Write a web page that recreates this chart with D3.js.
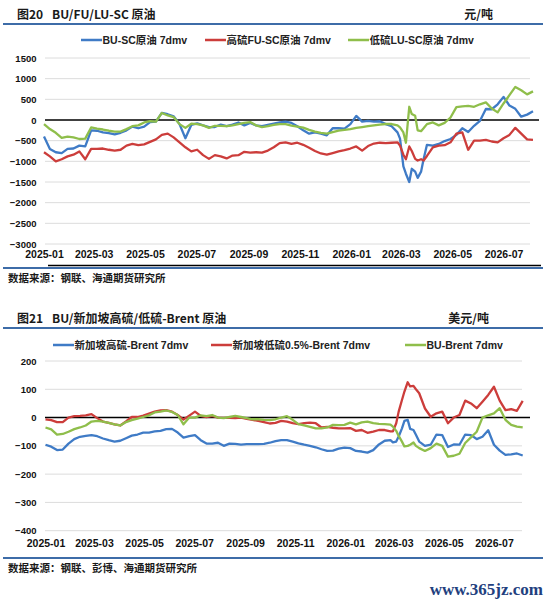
<!DOCTYPE html>
<html>
<head>
<meta charset="utf-8">
<script src="https://cdn.jsdelivr.net/npm/d3@7"></script>
<style>
  body { margin: 0; background: #fff; }
</style>
</head>
<body>
<svg id="chart" width="550" height="601"></svg>
<script>
// weekly 7dmv readings, extra points around the March 2026 spike
var dates = [
  "2025-01-01","2025-01-08","2025-01-15","2025-01-22","2025-01-29","2025-02-05","2025-02-12","2025-02-19","2025-02-26","2025-03-05",
  "2025-03-12","2025-03-19","2025-03-26","2025-04-02","2025-04-09","2025-04-16","2025-04-23","2025-04-30","2025-05-07","2025-05-14",
  "2025-05-21","2025-05-28","2025-06-04","2025-06-11","2025-06-18","2025-06-25","2025-07-02","2025-07-09","2025-07-16","2025-07-23",
  "2025-07-30","2025-08-06","2025-08-13","2025-08-20","2025-08-27","2025-09-03","2025-09-10","2025-09-17","2025-09-24","2025-10-01",
  "2025-10-08","2025-10-15","2025-10-22","2025-10-29","2025-11-05","2025-11-12","2025-11-19","2025-11-26","2025-12-03","2025-12-10",
  "2025-12-17","2025-12-24","2025-12-31","2026-01-07","2026-01-14","2026-01-21","2026-01-28","2026-02-04","2026-02-11","2026-02-18",
  "2026-02-25","2026-02-28","2026-03-04","2026-03-07","2026-03-11","2026-03-14","2026-03-18","2026-03-21","2026-03-25","2026-03-28",
  "2026-04-01","2026-04-08","2026-04-15","2026-04-22","2026-04-29","2026-05-06","2026-05-13","2026-05-20","2026-05-27","2026-06-03",
  "2026-06-10","2026-06-17","2026-06-24","2026-07-01","2026-07-08","2026-07-15","2026-07-22","2026-07-29","2026-08-05"
];

// 图20 (元/吨)
var buSc = [
  -400,-700,-780,-800,-700,-690,-620,-640,-250,-260,
  -300,-320,-350,-310,-250,-160,-200,-160,-50,-40,
  170,140,90,-100,-440,-120,-80,-130,-170,-170,
  -110,-150,-110,-60,-130,-70,-130,-150,-120,-90,
  -60,-40,-70,-150,-250,-330,-300,-330,-370,-200,
  -200,-210,-100,100,-40,-20,-40,-30,-100,-150,
  -300,-450,-1120,-1300,-1500,-1180,-1250,-1400,-1250,-950,
  -600,-620,-580,-510,-460,-360,-200,-290,-140,-20,
  266,260,380,560,350,270,80,130,210
];
var fuSc = [
  -780,-880,-1000,-950,-880,-840,-760,-950,-700,-700,
  -690,-720,-740,-720,-620,-580,-610,-590,-530,-470,
  -360,-330,-420,-540,-660,-760,-720,-850,-940,-850,
  -880,-930,-860,-850,-770,-790,-780,-790,-740,-660,
  -560,-540,-580,-550,-600,-670,-750,-810,-840,-800,
  -760,-730,-690,-640,-740,-630,-570,-550,-560,-550,
  -540,-620,-840,-950,-640,-750,-940,-980,-950,-980,
  -870,-660,-620,-610,-540,-330,-300,-720,-500,-500,
  -480,-520,-540,-440,-360,-190,-330,-470,-483
];
var luSc = [
  -100,-220,-310,-430,-400,-420,-460,-450,-180,-210,
  -230,-260,-280,-280,-220,-150,-130,-60,-30,-40,
  170,110,70,-100,-190,-90,-100,-130,-190,-140,
  -140,-150,-130,-100,-70,-50,-130,-170,-150,-120,
  -100,-100,-137,-160,-185,-240,-280,-310,-330,-295,
  -258,-240,-220,-190,-170,-150,-130,-110,-97,-97,
  -130,-180,-300,-550,320,145,100,-250,-270,-200,
  -100,-60,-130,-70,60,310,330,340,320,380,
  427,280,185,400,600,800,720,620,693
];

// 图21 (美元/吨)
var sgHsBrent = [
  -96,-103,-115,-113,-92,-76,-68,-65,-62,-66,
  -74,-80,-85,-82,-73,-64,-60,-53,-53,-49,
  -47,-41,-40,-53,-71,-66,-62,-80,-92,-92,
  -89,-100,-92,-93,-96,-94,-94,-94,-93,-89,
  -83,-80,-80,-85,-91,-96,-100,-105,-112,-118,
  -117,-110,-106,-108,-118,-120,-124,-115,-95,-82,
  -80,-88,-85,-67,-38,-12,-8,-40,-44,-61,
  -85,-100,-96,-60,-62,-104,-95,-96,-60,-62,
  -76,-68,-45,-96,-117,-132,-130,-127,-134
];
var sgLsBrent = [
  -6,-9,-16,-16,0,5,6,8,12,-2,
  -14,-19,-24,-28,-14,2,2,7,14,21,
  25,26,21,9,-7,7,21,6,2,6,
  0,-1,-1,-2,0,-5,-8,-12,-16,-21,
  -19,-12,-14,-20,-23,-20,-18,-20,-35,-33,
  -36,-38,-38,-37,-47,-44,-54,-50,-44,-44,
  -49,-49,-20,21,62,92,125,110,112,100,
  86,32,3,15,21,-20,0,9,60,50,
  33,56,80,109,60,26,30,24,59
];
var buBrent = [
  -35,-42,-60,-58,-50,-41,-35,-28,-14,-12,
  -14,-19,-24,-28,-16,-9,-4,2,8,18,
  21,25,20,9,-24,0,0,8,5,9,
  0,-2,2,6,2,-2,-6,-6,-8,-9,
  -6,0,5,-8,-23,-28,-33,-38,-38,-35,
  -26,-27,-26,-18,-24,-17,-14,-20,-22,-23,
  -25,-32,-47,-65,-85,-102,-100,-96,-88,-100,
  -108,-118,-108,-92,-100,-138,-135,-128,-90,-70,
  -50,0,8,15,33,-8,-26,-32,-35
];

var monthTicks = ["2025-01","2025-03","2025-05","2025-07","2025-09","2025-11","2026-01","2026-03","2026-05","2026-07"];
var yTicks1 = [1500,1000,500,0,-500,-1000,-1500,-2000,-2500,-3000];
var yTicks2 = [200,100,0,-100,-200,-300,-400];
var names1 = ["BU-SC原油 7dmv","高硫FU-SC原油 7dmv","低硫LU-SC原油 7dmv"];
var names2 = ["新加坡高硫-Brent 7dmv","新加坡低硫0.5%-Brent 7dmv","BU-Brent 7dmv"];
var colors = ["#3f7bc6","#cc3d3b","#8fbe4b"];

var parseDate = d3.timeParse("%Y-%m-%d");
var parseMonth = d3.timeParse("%Y-%m");
var latin = "'Liberation Sans', Arial, 'Noto Sans CJK SC', sans-serif";
var cjk = "'Noto Sans CJK SC', sans-serif";
var rule = "#3d6ca8";

var svg = d3.select("#chart");

function drawHeader(fig, title, unit, ty, ry, unitX) {
  svg.append("text").attr("x", 17).attr("y", ty).attr("font-family", cjk)
    .attr("font-weight", "bold").attr("font-size", 12).attr("fill", "#1a1a1a").text(fig);
  svg.append("text").attr("x", 52).attr("y", ty).attr("font-family", cjk)
    .attr("font-weight", "bold").attr("font-size", 12).attr("fill", "#1a1a1a").text(title);
  svg.append("text").attr("x", unitX).attr("y", ty).attr("text-anchor", "end").attr("font-family", cjk)
    .attr("font-weight", "bold").attr("font-size", 12).attr("fill", "#1a1a1a").text(unit);
  svg.append("line").attr("x1", 3).attr("x2", 543).attr("y1", ry).attr("y2", ry)
    .attr("stroke", rule).attr("stroke-width", 2);
}

function drawPanel(p) {
  var x = d3.scaleTime()
    .domain([parseDate(dates[0]), parseDate(dates[dates.length - 1])])
    .range(p.xRange);
  var y = d3.scaleLinear().domain(p.yDomain).range(p.yRange);
  var g = svg.append("g");

  g.selectAll("line.grid").data(p.yTicks.filter(function (d) { return d !== 0; }))
    .enter().append("line").attr("class", "grid")
    .attr("x1", 45).attr("x2", p.gridEnd)
    .attr("y1", function (d) { return y(d); }).attr("y2", function (d) { return y(d); })
    .attr("stroke", "#dcdcdc").attr("stroke-width", 1);

  g.append("line").attr("x1", 45).attr("x2", p.zeroEnd)
    .attr("y1", y(0)).attr("y2", y(0)).attr("stroke", "#000").attr("stroke-width", 1.5);

  var ya = g.append("g").attr("transform", "translate(45,0)")
    .call(d3.axisLeft(y).tickValues(p.yTicks).tickSize(0).tickPadding(8.5).tickFormat(d3.format("d")));
  ya.select(".domain").remove();
  ya.selectAll("text").attr("font-family", latin).attr("font-weight", "bold")
    .attr("font-size", 9.5).attr("fill", "#111");

  var xa = g.append("g").attr("transform", "translate(0," + p.yRange[0] + ")")
    .call(d3.axisBottom(x).tickValues(monthTicks.map(parseMonth))
      .tickFormat(d3.timeFormat("%Y-%m")).tickSize(0).tickPadding(p.xPad));
  xa.select(".domain").remove();
  xa.selectAll("text").attr("font-family", latin).attr("font-weight", "bold")
    .attr("font-size", 10.5).attr("fill", "#111");

  var line = d3.line()
    .x(function (d, i) { return x(parseDate(dates[i])); })
    .y(function (d) { return y(d); });
  p.series.forEach(function (s, i) {
    g.append("path").datum(s).attr("d", line).attr("fill", "none")
      .attr("stroke", colors[i]).attr("stroke-width", 2.3).attr("stroke-linejoin", "round");
  });

  p.names.forEach(function (n, i) {
    var lx = p.legendX[i];
    g.append("line").attr("x1", lx).attr("x2", lx + 21).attr("y1", p.legendY).attr("y2", p.legendY)
      .attr("stroke", colors[i]).attr("stroke-width", 2.5);
    g.append("text").attr("x", lx + 21.5).attr("y", p.legendY).attr("dy", "0.36em")
      .attr("font-family", latin).attr("font-weight", "bold").attr("font-size", 10.5)
      .attr("fill", "#222").text(n);
  });
}

// 图20
drawHeader("图20", "BU/FU/LU-SC 原油", "元/吨", 18.5, 24, 493);
drawPanel({
  series: [buSc, fuSc, luSc], names: names1,
  xRange: [44, 533], yDomain: [-3000, 1500], yRange: [244, 58], yTicks: yTicks1,
  gridEnd: 530, zeroEnd: 539, xPad: 6.3,
  legendX: [81, 205, 348], legendY: 40
});
svg.append("line").attr("x1", 48).attr("x2", 541).attr("y1", 265.5).attr("y2", 265.5)
  .attr("stroke", "#000").attr("stroke-width", 1.5);
svg.append("line").attr("x1", 3).attr("x2", 543).attr("y1", 268).attr("y2", 268)
  .attr("stroke", rule).attr("stroke-width", 2);
svg.append("text").attr("x", 8).attr("y", 281.5).attr("font-family", cjk).attr("font-weight", "bold")
  .attr("font-size", 10.5).attr("fill", "#1a1a1a").text("数据来源：钢联、海通期货研究所");

// 图21
drawHeader("图21", "BU/新加坡高硫/低硫-Brent 原油", "美元/吨", 322.5, 328, 489);
drawPanel({
  series: [sgHsBrent, sgLsBrent, buBrent], names: names2,
  xRange: [45.5, 522.7], yDomain: [-400, 200], yRange: [530.7, 361], yTicks: yTicks2,
  gridEnd: 522, zeroEnd: 530, xPad: 9.1,
  legendX: [53, 211, 405], legendY: 345
});
svg.append("line").attr("x1", 3).attr("x2", 543).attr("y1", 558).attr("y2", 558)
  .attr("stroke", rule).attr("stroke-width", 2);
svg.append("text").attr("x", 8).attr("y", 571.5).attr("font-family", cjk).attr("font-weight", "bold")
  .attr("font-size", 10.5).attr("fill", "#1a1a1a").text("数据来源：钢联、彭博、海通期货研究所");

svg.append("text").attr("x", 543).attr("y", 595).attr("text-anchor", "end")
  .attr("font-family", "'Liberation Serif', 'DejaVu Serif', serif").attr("font-weight", "bold")
  .attr("font-size", 17).attr("fill", "#22407e").text("www.365jz.com");
</script>
</body>
</html>
